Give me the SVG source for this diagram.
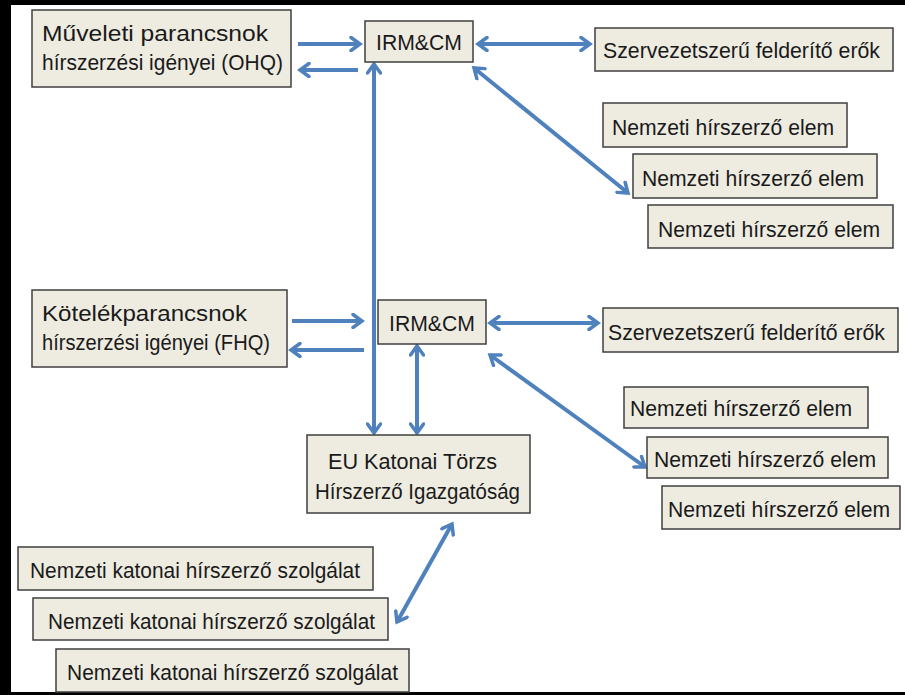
<svg xmlns="http://www.w3.org/2000/svg" width="905" height="695" viewBox="0 0 905 695">
<style>
.box{fill:#eeece1;stroke:#3f3f3f;stroke-width:1.5}
.t{font-family:"Liberation Sans",Arial,sans-serif;font-size:22.5px;fill:#1a1a1a}
.c{stroke:#4f81bd;stroke-width:4;fill:none}
</style>
<defs>
<marker id="ah" viewBox="0 0 14 16" refX="11" refY="8" markerWidth="14" markerHeight="16" markerUnits="userSpaceOnUse" orient="auto-start-reverse">
<path d="M2,1.5 L11,8 L2,14.5" fill="none" stroke="#4f81bd" stroke-width="3.5" stroke-linejoin="miter" stroke-linecap="round"/>
</marker>
</defs>
<rect x="0" y="0" width="905" height="695" fill="#ffffff"/>
<g id="frame">
<rect x="0" y="0" width="905" height="5" fill="#000"/>
<rect x="0" y="0" width="11" height="695" fill="#000"/>
<rect x="0" y="692" width="905" height="3" fill="#000"/>
</g>
<g id="connectors">
<line class="c" x1="298" y1="44" x2="360" y2="44" marker-end="url(#ah)"/>
<line class="c" x1="358" y1="70" x2="300" y2="70" marker-end="url(#ah)"/>
<line class="c" x1="478" y1="44" x2="590" y2="44" marker-start="url(#ah)" marker-end="url(#ah)"/>
<line class="c" x1="474" y1="68" x2="628" y2="193" marker-start="url(#ah)" marker-end="url(#ah)"/>
<line class="c" x1="374" y1="64" x2="374" y2="433" marker-start="url(#ah)" marker-end="url(#ah)"/>
<line class="c" x1="292" y1="321" x2="362" y2="321" marker-end="url(#ah)"/>
<line class="c" x1="364" y1="350" x2="291" y2="350" marker-end="url(#ah)"/>
<line class="c" x1="490" y1="323" x2="598" y2="323" marker-start="url(#ah)" marker-end="url(#ah)"/>
<line class="c" x1="490" y1="355" x2="645" y2="467" marker-start="url(#ah)" marker-end="url(#ah)"/>
<line class="c" x1="417" y1="346" x2="417" y2="433" marker-start="url(#ah)" marker-end="url(#ah)"/>
<line class="c" x1="452" y1="524" x2="397" y2="622" marker-start="url(#ah)" marker-end="url(#ah)"/>
</g>
<g id="ohq">
<rect class="box" x="32" y="10" width="259" height="77"/>
<text class="t" x="42" y="41" textLength="226" lengthAdjust="spacingAndGlyphs">Műveleti parancsnok</text>
<text class="t" x="42" y="70" textLength="241" lengthAdjust="spacingAndGlyphs">hírszerzési igényei (OHQ)</text>
</g>
<g id="irm1">
<rect class="box" x="365" y="21" width="108" height="41"/>
<text class="t" x="376" y="50" textLength="86" lengthAdjust="spacingAndGlyphs">IRM&amp;CM</text>
</g>
<g id="szerv1">
<rect class="box" x="595" y="28" width="298" height="43"/>
<text class="t" x="603" y="58" textLength="277" lengthAdjust="spacingAndGlyphs">Szervezetszerű felderítő erők</text>
</g>
<g id="nem1a">
<rect class="box" x="603" y="103" width="244" height="44"/>
<text class="t" x="612" y="135" textLength="222" lengthAdjust="spacingAndGlyphs">Nemzeti hírszerző elem</text>
</g>
<g id="nem1b">
<rect class="box" x="633" y="154" width="244" height="44"/>
<text class="t" x="642" y="186" textLength="222" lengthAdjust="spacingAndGlyphs">Nemzeti hírszerző elem</text>
</g>
<g id="nem1c">
<rect class="box" x="648" y="205" width="245" height="43"/>
<text class="t" x="658" y="237" textLength="222" lengthAdjust="spacingAndGlyphs">Nemzeti hírszerző elem</text>
</g>
<g id="fhq">
<rect class="box" x="32" y="290" width="255" height="77"/>
<text class="t" x="42" y="321" textLength="205" lengthAdjust="spacingAndGlyphs">Kötelékparancsnok</text>
<text class="t" x="42" y="350" textLength="228" lengthAdjust="spacingAndGlyphs">hírszerzési igényei (FHQ)</text>
</g>
<g id="irm2">
<rect class="box" x="378" y="300" width="108" height="44"/>
<text class="t" x="389" y="331" textLength="86" lengthAdjust="spacingAndGlyphs">IRM&amp;CM</text>
</g>
<g id="szerv2">
<rect class="box" x="603" y="308" width="295" height="44"/>
<text class="t" x="608" y="340" textLength="277" lengthAdjust="spacingAndGlyphs">Szervezetszerű felderítő erők</text>
</g>
<g id="nem2a">
<rect class="box" x="624" y="387" width="244" height="41"/>
<text class="t" x="630" y="416" textLength="222" lengthAdjust="spacingAndGlyphs">Nemzeti hírszerző elem</text>
</g>
<g id="nem2b">
<rect class="box" x="647" y="437" width="241" height="41"/>
<text class="t" x="654" y="467" textLength="222" lengthAdjust="spacingAndGlyphs">Nemzeti hírszerző elem</text>
</g>
<g id="nem2c">
<rect class="box" x="662" y="486" width="238" height="43"/>
<text class="t" x="668" y="517" textLength="222" lengthAdjust="spacingAndGlyphs">Nemzeti hírszerző elem</text>
</g>
<g id="eu">
<rect class="box" x="307" y="435" width="223" height="78"/>
<text class="t" x="328" y="469" textLength="169" lengthAdjust="spacingAndGlyphs">EU Katonai Törzs</text>
<text class="t" x="315" y="499" textLength="205" lengthAdjust="spacingAndGlyphs">Hírszerző Igazgatóság</text>
</g>
<g id="nks1">
<rect class="box" x="18" y="547" width="355" height="43"/>
<text class="t" x="30" y="578" textLength="330" lengthAdjust="spacingAndGlyphs">Nemzeti katonai hírszerző szolgálat</text>
</g>
<g id="nks2">
<rect class="box" x="33" y="598" width="355" height="42"/>
<text class="t" x="48" y="629" textLength="327" lengthAdjust="spacingAndGlyphs">Nemzeti katonai hírszerző szolgálat</text>
</g>
<g id="nks3">
<rect class="box" x="56" y="649" width="353" height="43"/>
<text class="t" x="67" y="680" textLength="331" lengthAdjust="spacingAndGlyphs">Nemzeti katonai hírszerző szolgálat</text>
</g>
</svg>
